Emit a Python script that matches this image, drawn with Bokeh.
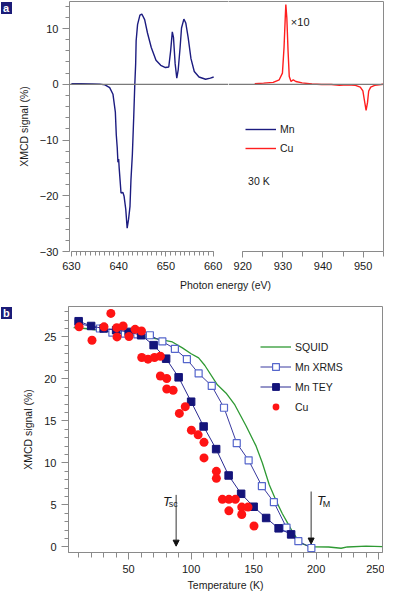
from bokeh.plotting import figure
from bokeh.models import (Range1d, LinearAxis, FixedTicker, SingleIntervalTicker, Span, Label,
                          Arrow, NormalHead, Legend, LegendItem, CustomJSTickFormatter, Spacer)
from bokeh.layouts import column, row
from bokeh.embed import file_html
from bokeh.resources import INLINE

FONT = "Liberation Sans"
GRAY = "#8a8a8a"
TXT = "#1a1a1a"
NAVY = "#1c1c80"
TICK_FS = "11px"
LAB_FS = "10.5px"

# ---------------- panel a data ----------------
mn_energy = [630.0, 632.0, 634.4, 636.0, 637.1, 638.1, 638.8, 639.3, 639.5, 639.7, 639.85, 640.0,
             640.1, 640.3, 640.5, 640.9, 641.15, 641.5, 641.8, 642.1, 642.4, 642.6, 642.9, 643.2,
             643.4, 643.6, 643.7, 644.0, 644.5, 644.9, 645.5, 646.1, 646.9, 647.9, 648.9, 649.9,
             650.6, 651.0, 651.35, 651.6, 651.95, 652.3, 652.6, 653.0, 653.3, 653.8, 654.2, 654.7,
             655.3, 656.0, 657.0, 658.4, 659.4, 660.1]
mn_signal = [0.10, 0.10, 0.08, 0.02, -0.10, -0.60, -1.8, -5.0, -9.1, -11.4, -14.0, -13.4,
             -14.9, -17.2, -19.5, -19.4, -20.1, -22.4, -25.8, -24.2, -21.9, -17.2, -12.6, -5.6,
             -0.4, 3.7, 7.8, 10.7, 12.4, 12.6, 11.6, 9.2, 6.6, 4.3, 3.4, 3.0,
             3.1, 6.0, 9.4, 8.4, 3.7, 1.1, 2.6, 6.6, 10.1, 11.7, 11.0, 8.4,
             4.6, 2.3, 1.3, 0.9, 1.1, 1.3]

cu_energy = [923.0, 925.2, 927.6, 929.1, 929.9, 930.3, 930.6, 930.75, 931.0, 931.3, 931.6, 932.05,
             932.6, 933.25, 934.8, 937.25, 939.7, 942.1, 944.1, 946.1, 948.1, 949.3, 949.95, 950.36,
             950.75, 951.1, 951.4, 951.9, 952.9, 954.5, 955.0]
cu_signal_x10 = [0.1, 0.2, 0.35, 0.8, 2.0, 6.6, 11.9, 14.3, 11.9, 6.0, 1.4, 0.5,
                 0.8, 0.5, 0.25, 0.05, -0.05, -0.05, -0.2, -0.1, -0.2, -0.5, -1.2, -3.0,
                 -4.7, -3.3, -1.2, -0.5, -0.2, -0.05, 0.0]

# ---------------- panel b data ----------------
squid_t = [6, 15, 25, 40, 51, 64, 75, 85, 93, 100, 106, 111, 121, 128, 135, 144, 152, 157,
           162.5, 168, 173, 177, 181, 187, 193, 199, 210, 220, 225, 240, 253]
squid_s = [26.1, 26.0, 25.8, 25.5, 25.25, 24.97, 24.7, 24.4, 23.7, 23.0, 22.5, 21.6, 19.3, 18.3,
           16.9, 14.4, 12.0, 10.0, 7.4, 5.5, 3.95, 2.9, 1.84, 0.5, 0.15, 0.03, 0.0, -0.15, 0.0,
           0.1, 0.05]

xrms_t = [10, 27, 37, 47, 57, 67, 77, 87, 96.6, 106, 116.5, 126.3, 136.5, 146, 156.6, 166.2,
          176.3, 185.8, 196.2]
xrms_s = [26.6, 26.0, 25.5, 25.4, 25.3, 25.2, 24.46, 23.58, 22.35, 20.65, 19.17, 16.57, 12.36,
          10.31, 7.25, 5.33, 2.30, 0.69, -0.12]

tey_t = [10, 20, 30, 40, 50, 60, 70, 80, 90, 100, 110, 120, 130, 140, 150, 160, 170, 180]
tey_s = [26.87, 26.3, 26.0, 25.8, 25.6, 25.2, 24.02, 22.41, 20.19, 17.29, 14.34, 11.65, 8.51,
         6.33, 4.79, 3.45, 2.22, 1.50]

cu_t = [10.4, 20.7, 30.3, 35.8, 40.5, 40.7, 45.6, 50.3, 55.2, 60.3, 60.5, 65.5, 70.7, 75.4,
        75.4, 80.5, 80.5, 85.6, 90.6, 95.3, 100.2, 105.6, 110.3, 110.3, 120.2, 120.2, 125.0,
        130.2, 135.4, 130.2, 140.5, 145.5, 140.5, 150.3]
cu_s = [26.2, 24.6, 26.2, 27.8, 26.1, 25.0, 26.3, 25.05, 25.9, 25.7, 22.55, 22.35, 22.55, 22.7,
        20.35, 20.05, 18.8, 18.65, 15.9, 16.7, 13.9, 13.35, 12.45, 10.6, 9.0, 8.17, 5.67,
        5.67, 5.67, 4.3, 4.75, 4.75, 3.87, 2.5]

transition_temps = [88, 196]   # T_sc, T_M (K)


def style_axis(ax, major_out, minor_out, standoff):
    ax.axis_line_color = GRAY
    ax.axis_line_width = 1
    ax.major_tick_line_color = GRAY
    ax.minor_tick_line_color = GRAY
    ax.major_tick_in = 0
    ax.minor_tick_in = 0
    ax.major_tick_out = major_out
    ax.minor_tick_out = minor_out
    ax.major_label_standoff = standoff
    ax.major_label_text_font = FONT
    ax.major_label_text_font_size = TICK_FS
    ax.major_label_text_color = TXT
    ax.axis_label_text_font = FONT
    ax.axis_label_text_font_style = "normal"
    ax.axis_label_text_font_size = LAB_FS
    ax.axis_label_text_color = TXT


def border_axis():
    ax = LinearAxis(ticker=FixedTicker(ticks=[]))
    ax.axis_line_color = GRAY
    ax.major_tick_out = 0
    ax.minor_tick_out = 0
    ax.major_tick_in = 0
    ax.minor_tick_in = 0
    ax.major_label_standoff = 0
    ax.major_label_text_font_size = "0px"
    return ax


def strip_figure(width, height):
    return figure(width=width, height=height, x_range=Range1d(0, 1), y_range=Range1d(0, 1),
                  min_border=0, output_backend="svg", toolbar_location=None,
                  x_axis_type=None, y_axis_type=None, outline_line_color=None,
                  background_fill_color="white", border_fill_color="white")


def tag_figure(letter, height):
    # narrow strip holding the white-on-navy panel letter
    t = strip_figure(14, height)
    t.add_layout(Legend(items=[LegendItem(label=letter, renderers=[])], location="top_left",
                        glyph_width=2, glyph_height=12, label_height=12, label_width=9,
                        label_standoff=0, padding=0, margin=1, border_line_color=None,
                        background_fill_color="#1c1c78", background_fill_alpha=1,
                        label_text_font=FONT, label_text_font_style="bold",
                        label_text_font_size="11px", label_text_color="white"))
    return t


minus_fmt = CustomJSTickFormatter(code="return tick < 0 ? '\\u2212' + Math.abs(tick) : String(tick);")

common = dict(output_backend="svg", toolbar_location=None, x_axis_type=None, y_axis_type=None,
              outline_line_color=None, background_fill_color="white", border_fill_color="white")

# ---------------- panel a, left part (Mn L edge) ----------------
yr_a = Range1d(-30, 14.85)
p1 = figure(frame_width=159, frame_height=250, x_range=Range1d(629.6, 663.24), y_range=yr_a,
            min_border_left=54, min_border_right=0, min_border_top=1, min_border_bottom=28, **common)
xa1 = LinearAxis(ticker=SingleIntervalTicker(interval=10, num_minor_ticks=10), bounds=(630, 660))
style_axis(xa1, 5, 4, 5)
p1.add_layout(xa1, "below")
ya1 = LinearAxis(ticker=SingleIntervalTicker(interval=10, num_minor_ticks=5),
                 axis_label="XMCD signal (%)", formatter=minus_fmt)
style_axis(ya1, 7, 4, 4)
ya1.axis_label_standoff = 7
p1.add_layout(ya1, "left")
p1.add_layout(border_axis(), "above")
p1.add_layout(Span(location=0, dimension="width", line_color="#7a7a7a", line_width=1.2))
mn_r1 = p1.line(mn_energy, mn_signal, line_color=NAVY, line_width=1.4)

# ---------------- panel a, right part (Cu L edge) ----------------
p2 = figure(frame_width=155, frame_height=250, x_range=Range1d(916.46, 955.09), y_range=yr_a,
            min_border_left=0, min_border_right=2, min_border_top=1, min_border_bottom=28, **common)
xa2 = LinearAxis(ticker=SingleIntervalTicker(interval=10, num_minor_ticks=2), bounds=(920, 955))
style_axis(xa2, 6, 5, 4)
p2.add_layout(xa2, "below")
p2.add_layout(border_axis(), "above")
p2.add_layout(border_axis(), "right")
p2.add_layout(Span(location=0, dimension="width", line_color="#7a7a7a", line_width=1.2))
mn_r2 = p2.line(mn_energy, mn_signal, line_color=NAVY, line_width=1.4)
cu_r = p2.line(cu_energy, cu_signal_x10, line_color="#ff1e1e", line_width=1.4)
leg1 = Legend(items=[LegendItem(label="Mn", renderers=[mn_r2]),
                     LegendItem(label="Cu", renderers=[cu_r])],
              location=(17, 95), glyph_width=31, glyph_height=16, label_height=16, spacing=3,
              label_standoff=4, padding=0, margin=0, border_line_color=None,
              background_fill_alpha=0, label_text_font=FONT, label_text_font_size=LAB_FS,
              label_text_color=TXT)
p2.add_layout(leg1)
p2.add_layout(Label(x=932.0, y=11.1, text="\u00d710", text_font=FONT, text_font_size="11px",
                    text_color=TXT, text_baseline="middle", text_align="left"))
p2.add_layout(Label(x=921.35, y=-17.36, text="30 K", text_font=FONT, text_font_size=LAB_FS,
                    text_color=TXT, text_baseline="middle", text_align="left"))

# ---------------- x-axis title of panel a (spans the broken axis) ----------------
energy_title = strip_figure(384, 12)
energy_title.add_layout(Label(x=225, y=7, x_units="screen", y_units="screen",
                              text="Photon energy (eV)", text_font=FONT, text_font_size=LAB_FS,
                              text_color=TXT, text_baseline="middle", text_align="center"))

# ---------------- panel b ----------------
p3 = figure(frame_width=314, frame_height=246, x_range=Range1d(1.9, 253.1),
            y_range=Range1d(-0.656, 28.62), min_border_left=54, min_border_right=2,
            min_border_top=15, min_border_bottom=41,
            **{**common, "outline_line_color": GRAY})
xb = LinearAxis(ticker=SingleIntervalTicker(interval=50, num_minor_ticks=5),
                axis_label="Temperature (K)")
style_axis(xb, 7, 5, 5)
xb.axis_label_standoff = 3
p3.add_layout(xb, "below")
yb = LinearAxis(ticker=SingleIntervalTicker(interval=5, num_minor_ticks=5),
                axis_label="XMCD signal (%)")
style_axis(yb, 7, 4, 5)
yb.axis_label_standoff = 7
p3.add_layout(yb, "left")

squid_r = p3.line(squid_t, squid_s, line_color="#2f9a34", line_width=1.3)
xrms_l = p3.line(xrms_t, xrms_s, line_color="#3a3aa0", line_width=1)
xrms_m = p3.scatter(xrms_t, xrms_s, marker="square", size=7, fill_color="white",
                    line_color="#5566cc", line_width=1.2)
tey_l = p3.line(tey_t, tey_s, line_color="#2a2a92", line_width=1)
tey_m = p3.scatter(tey_t, tey_s, marker="square", size=7.5, fill_color="#14147a",
                   line_color="#14147a")
cu_m = p3.scatter(cu_t, cu_s, marker="circle", size=9, fill_color="#ff1414", line_color=None)

leg2 = Legend(items=[LegendItem(label="SQUID", renderers=[squid_r]),
                     LegendItem(label="Mn XRMS", renderers=[xrms_l, xrms_m]),
                     LegendItem(label="Mn TEY", renderers=[tey_l, tey_m]),
                     LegendItem(label="Cu", renderers=[cu_m])],
              location=(192, 137), glyph_width=31, glyph_height=17, label_height=17, spacing=3,
              label_standoff=4, padding=0, margin=0, border_line_color=None,
              background_fill_alpha=0, label_text_font=FONT, label_text_font_size=LAB_FS,
              label_text_color=TXT)
p3.add_layout(leg2)

t_sc, t_m = transition_temps
p3.add_layout(Arrow(x_start=t_sc, y_start=6.2, x_end=t_sc, y_end=0.1, line_color="#333",
                    line_width=1, end=NormalHead(size=6, fill_color="#111", line_color="#111",
                                                 line_width=1)))
p3.add_layout(Arrow(x_start=t_m, y_start=6.6, x_end=t_m, y_end=0.35, line_color="#333",
                    line_width=1, end=NormalHead(size=6, fill_color="#111", line_color="#111",
                                                 line_width=1)))
for txt, xx, yy, size in [("T", 77.4, 5.44, "13px"), ("sc", 82.0, 5.15, "9px"),
                          ("T", 200.6, 5.48, "13px"), ("M", 205.2, 5.1, "9px")]:
    p3.add_layout(Label(x=xx, y=yy, text=txt, text_font=FONT, text_font_size=size,
                        text_font_style="italic" if txt == "T" else "normal",
                        text_color=TXT, text_baseline="alphabetic", text_align="left"))

tag_a = tag_figure("a", 279)
tag_b = column(Spacer(width=14, height=15), tag_figure("b", 16))
layout = column(row(tag_a, p1, p2), energy_title, row(tag_b, p3))
open("out.html", "w").write(file_html(layout, INLINE))
